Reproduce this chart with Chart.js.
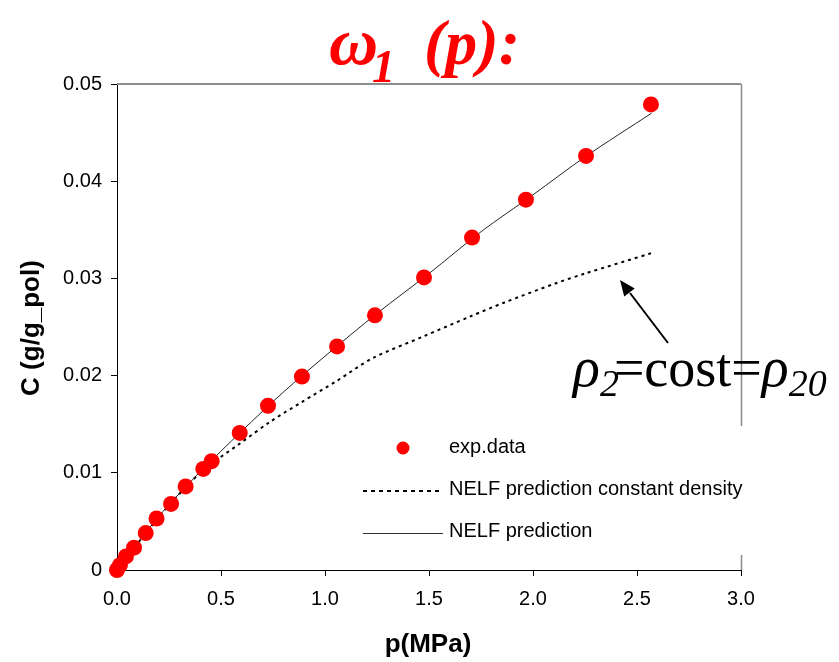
<!DOCTYPE html>
<html>
<head>
<meta charset="utf-8">
<script src="https://cdn.jsdelivr.net/npm/chart.js@4/dist/chart.umd.min.js"></script>
<style>
  body { margin: 0; background: #fff; }
  #wrap { width: 839px; height: 662px; position: relative; }
</style>
</head>
<body>
<div id="wrap"><canvas id="ctx"></canvas></div>
<script>
// exp.data
const expP = [0.0, 0.014, 0.043, 0.082, 0.138, 0.19, 0.26, 0.33, 0.415, 0.455, 0.59, 0.726, 0.889, 1.058, 1.24, 1.476, 1.707, 1.966, 2.255, 2.567];
const expC = [0.0, 0.0005, 0.0014, 0.0023, 0.0038, 0.0053, 0.0068, 0.0086, 0.0104, 0.0112, 0.0141, 0.0169, 0.0199, 0.0230, 0.0262, 0.0301, 0.0342, 0.0381, 0.0426, 0.0479];

// NELF prediction (solid)
const nelfP = [0, 0.2, 0.4, 0.6, 0.8, 1.0, 1.25, 1.5, 1.75, 2.0, 2.25, 2.57];
const nelfC = [0, 0.0055, 0.0101, 0.0143, 0.0183, 0.0220, 0.0264, 0.0305, 0.0348, 0.0386, 0.0425, 0.0470];

// NELF prediction constant density (dashed)
const constP = [0, 0.2, 0.4, 0.59, 0.74, 0.89, 1.06, 1.23, 1.47, 1.70, 1.86, 2.11, 2.25, 2.57];
const constC = [0, 0.0054, 0.0100, 0.0130, 0.0153, 0.0173, 0.0195, 0.0218, 0.0240, 0.0261, 0.0275, 0.0295, 0.0305, 0.0326];

const xTicks = [0, 0.5, 1.0, 1.5, 2.0, 2.5, 3.0];
const yTicks = [0, 0.01, 0.02, 0.03, 0.04, 0.05];

const legendLabels = ['exp.data', 'NELF prediction constant density', 'NELF prediction'];

const toPts = (xs, ys) => xs.map((x, i) => ({x: x, y: ys[i]}));

const SANS = '"Liberation Sans", Arial, sans-serif';
const SERIF = '"Liberation Serif", "Times New Roman", serif';

// draws a run of [text, font, dy, extraGap] pieces left to right
function drawRun(ctx, x, y, pieces) {
    pieces.forEach(pc => {
        ctx.font = pc[1];
        ctx.fillText(pc[0], x, y + (pc[2] || 0));
        x += ctx.measureText(pc[0]).width + (pc[3] || 0);
    });
}

const extras = {
    id: 'extras',
    afterDraw(chart) {
        const ctx = chart.ctx;
        const a = chart.chartArea;
        ctx.save();

        // frame top + right (gray)
        ctx.strokeStyle = '#8c8c8c';
        ctx.lineWidth = 2;
        ctx.beginPath();
        ctx.moveTo(a.left, a.top);
        ctx.lineTo(a.right, a.top);
        ctx.stroke();
        ctx.lineWidth = 1.5;
        ctx.beginPath();
        ctx.moveTo(a.right + 0.5, a.top);
        ctx.lineTo(a.right + 0.5, a.bottom);
        ctx.stroke();

        // legend box
        ctx.fillStyle = '#fff';
        ctx.fillRect(350, 426, 440, 129);
        ctx.fillStyle = '#ff0000';
        ctx.beginPath();
        ctx.arc(403, 448, 6.5, 0, Math.PI * 2);
        ctx.fill();
        ctx.strokeStyle = '#000';
        ctx.lineWidth = 2;
        ctx.setLineDash([4, 4]);
        ctx.beginPath();
        ctx.moveTo(363, 491);
        ctx.lineTo(443, 491);
        ctx.stroke();
        ctx.setLineDash([]);
        ctx.lineWidth = 1;
        ctx.strokeStyle = '#333';
        ctx.beginPath();
        ctx.moveTo(363, 533.5);
        ctx.lineTo(443, 533.5);
        ctx.stroke();
        ctx.fillStyle = '#000';
        ctx.font = '20px ' + SANS;
        ctx.textBaseline = 'middle';
        ctx.fillText(legendLabels[0], 449, 447);
        ctx.fillText(legendLabels[1], 449, 489);
        ctx.fillText(legendLabels[2], 449, 531);

        // axis titles
        ctx.font = 'bold 26px ' + SANS;
        ctx.textAlign = 'center';
        ctx.fillText('p(MPa)', 428, 645);
        ctx.save();
        ctx.translate(32, 328);
        ctx.rotate(-Math.PI / 2);
        ctx.fillText('C (g/g_pol)', 0, 0);
        ctx.restore();

        // title
        ctx.textAlign = 'left';
        ctx.textBaseline = 'alphabetic';
        ctx.fillStyle = '#ff0000';
        ctx.font = 'italic bold 68px ' + SERIF;
        ctx.fillText('\u03c9', 329, 64);
        ctx.font = 'italic bold 46px ' + SERIF;
        ctx.fillText('1', 372, 82);
        ctx.font = 'italic bold 64px ' + SERIF;
        ctx.fillText('(p):', 424, 64);

        // annotation + arrow
        ctx.fillStyle = '#000';
        drawRun(ctx, 573, 386, [
            ['\u03c1', 'italic 56px ' + SERIF],
            ['2', 'italic 38px ' + SERIF, 10, -5],
            ['=cost=', '54px ' + SERIF],
            ['\u03c1', 'italic 56px ' + SERIF],
            ['20', 'italic 38px ' + SERIF, 10]
        ]);

        ctx.strokeStyle = '#000';
        ctx.lineWidth = 2;
        ctx.beginPath();
        ctx.moveTo(668, 343);
        ctx.lineTo(630, 293);
        ctx.stroke();
        const ang = Math.atan2(280 - 343, 620 - 668);
        ctx.beginPath();
        ctx.moveTo(620, 280);
        ctx.lineTo(620 - 17 * Math.cos(ang - 0.4), 280 - 17 * Math.sin(ang - 0.4));
        ctx.lineTo(620 - 17 * Math.cos(ang + 0.4), 280 - 17 * Math.sin(ang + 0.4));
        ctx.closePath();
        ctx.fill();

        ctx.restore();
    }
};

new Chart(document.getElementById('ctx'), {
    type: 'scatter',
    data: {
        datasets: [{
            label: legendLabels[0],
            data: toPts(expP, expC),
            pointRadius: 8,
            pointBackgroundColor: '#ff0000',
            pointBorderWidth: 0,
            showLine: false,
            clip: false
        }, {
            label: legendLabels[1],
            data: toPts(constP, constC),
            showLine: true,
            pointRadius: 0,
            borderColor: '#000',
            borderWidth: 2,
            borderDash: [3, 4],
            tension: 0.3
        }, {
            label: legendLabels[2],
            data: toPts(nelfP, nelfC),
            showLine: true,
            pointRadius: 0,
            borderColor: '#222',
            borderWidth: 1,
            tension: 0.3
        }]
    },
    options: {
        responsive: true,
        maintainAspectRatio: false,
        animation: false,
        events: [],
        layout: { padding: { top: 84, right: 98, left: 0, bottom: 0 } },
        plugins: { legend: { display: false }, tooltip: { enabled: false } },
        scales: {
            x: {
                type: 'linear', min: 0, max: 3,
                afterFit: s => { s.height = 92; },
                afterBuildTicks: s => { s.ticks = xTicks.map(v => ({value: v})); },
                ticks: { color: '#000', font: { family: SANS, size: 20 }, padding: 11,
                    callback: v => v.toFixed(1) },
                grid: { drawOnChartArea: false, tickLength: 6, color: '#000' },
                border: { color: '#000', width: 1 }
            },
            y: {
                type: 'linear', min: 0, max: 0.05,
                afterFit: s => { s.width = 117; },
                afterBuildTicks: s => { s.ticks = yTicks.map(v => ({value: v})); },
                ticks: { color: '#000', font: { family: SANS, size: 20 }, padding: 9,
                    callback: v => v === 0 ? '0' : v.toFixed(2) },
                grid: { drawOnChartArea: false, tickLength: 6, color: '#000' },
                border: { color: '#000', width: 1 }
            }
        }
    },
    plugins: [extras]
});
</script>
</body>
</html>
